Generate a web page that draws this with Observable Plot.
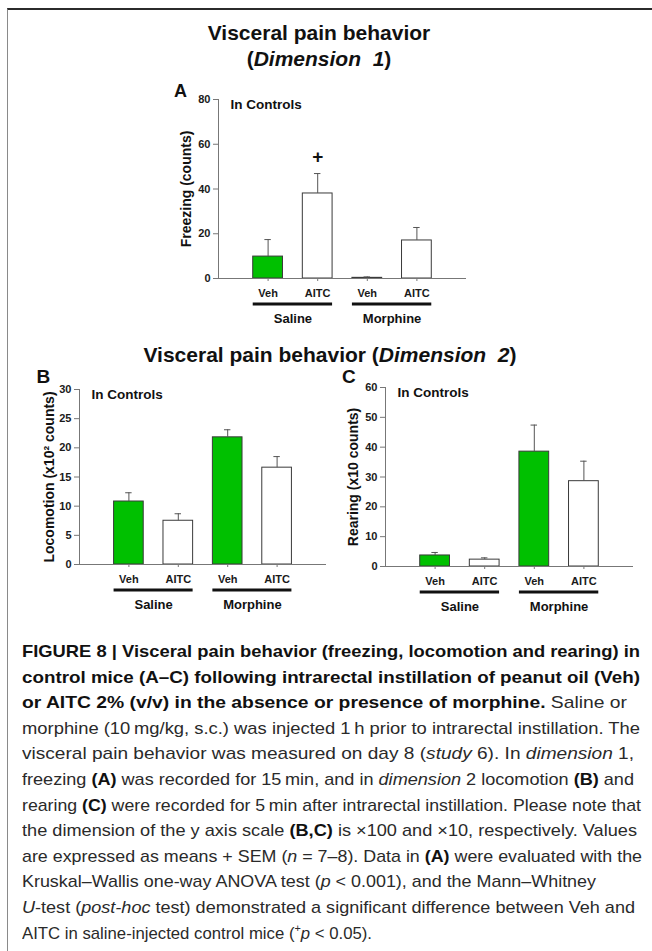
<!DOCTYPE html>
<html><head><meta charset="utf-8">
<script src="https://cdn.jsdelivr.net/npm/d3@7"></script>
<script src="https://cdn.jsdelivr.net/npm/@observablehq/plot@0.6"></script>
<style>
body{margin:0;background:#fff;}
#page{position:relative;width:652px;height:951px;overflow:hidden;background:#fff;font-family:"Liberation Sans",Arial,sans-serif;color:#1a1a1a;}
#frame{position:absolute;left:7px;top:8px;right:-2px;bottom:-2px;border-top:2px solid #2b2b2b;border-left:1px solid #8a8a8a;}
.t{position:absolute;white-space:nowrap;line-height:1;font-weight:bold;color:#111;}
.plot{position:absolute;}
#caption{position:absolute;left:22px;top:639px;font-size:17px;line-height:25.6px;color:#2a2a2a;}
#caption div{white-space:nowrap;height:25.6px;}
#caption span.ln{display:inline-block;transform-origin:0 0;}
#caption b{color:#111;}
#caption sup{font-size:0.65em;line-height:0;}
</style></head>
<body>
<div id="page">
  <div id="frame"></div>
  <div class="t" style="font-size:21px;left:0;width:638px;text-align:center;top:21.7px;">Visceral pain behavior</div>
  <div class="t" style="font-size:21px;left:0;width:638px;text-align:center;top:47.7px;">(<i>Dimension&nbsp; 1</i>)</div>
  <div class="t" style="font-size:21px;left:0;width:660px;text-align:center;top:343.9px;">Visceral pain behavior (<i>Dimension&nbsp; 2</i>)</div>
  <div class="t" style="font-size:18px;left:174px;top:81.8px;">A</div>
  <div class="t" style="font-size:19px;left:36.5px;top:367px;">B</div>
  <div class="t" style="font-size:19px;left:342px;top:367px;">C</div>
  <div class="plot" id="pA" style="left:140px;top:80px;"></div>
  <div class="plot" id="pB" style="left:10px;top:370px;"></div>
  <div class="plot" id="pC" style="left:316px;top:368px;"></div>
  <div id="caption"></div>
</div>
<script>
// ---- data ----
const groups = ["Saline", "Morphine"];
const drugs = ["Veh", "AITC", "Veh", "AITC"];
const groupOf = ["Saline", "Saline", "Morphine", "Morphine"];
const inControls = "In Controls";

const freezingMean = [9.8, 38.0, 0.3, 17.0];
const freezingSem  = [7.6, 8.9, 0.4, 5.8];
const freezingTicks = [0, 20, 40, 60, 80];
const freezingLabel = "Freezing (counts)";
const freezingSig = ["", "+", "", ""];

const locomotionMean = [10.8, 7.5, 21.8, 16.6];
const locomotionSem  = [1.5, 1.2, 1.3, 1.9];
const locomotionTicks = [0, 5, 10, 15, 20, 25, 30];
const locomotionLabel = "Locomotion (x10\u00B2 counts)";

const rearingMean = [3.7, 2.3, 38.5, 28.6];
const rearingSem  = [1.0, 0.6, 8.9, 6.7];
const rearingTicks = [0, 10, 20, 30, 40, 50, 60];
const rearingLabel = "Rearing (x10 counts)";

const captionLines = [
  "<b>FIGURE 8 | Visceral pain behavior (freezing, locomotion and rearing) in</b>",
  "<b>control mice (A–C) following intrarectal instillation of peanut oil (Veh)</b>",
  "<b>or AITC 2% (v/v) in the absence or presence of morphine.</b> Saline or",
  "morphine (10\u2009mg/kg, s.c.) was injected 1\u2009h prior to intrarectal instillation. The",
  "visceral pain behavior was measured on day 8 (<i>study</i> 6). In <i>dimension</i> 1,",
  "freezing <b>(A)</b> was recorded for 15\u2009min, and in <i>dimension</i> 2 locomotion <b>(B)</b> and",
  "rearing <b>(C)</b> were recorded for 5\u2009min after intrarectal instillation. Please note that",
  "the dimension of the y axis scale <b>(B,C)</b> is \u00D7100 and \u00D710, respectively. Values",
  "are expressed as means + SEM (<i>n</i> = 7–8). Data in <b>(A)</b> were evaluated with the",
  "Kruskal–Wallis one-way ANOVA test (<i>p</i> &lt; 0.001), and the Mann–Whitney",
  "<i>U</i>-test (<i>post-hoc</i> test) demonstrated a significant difference between Veh and",
  "AITC in saline-injected control mice (<sup>+</sup><i>p</i> &lt; 0.05)."
];
// measured line lengths of the caption in the reference (px)
const captionWidths = [618, 618, 605, 618, 612, 612, 619, 615, 620, 574, 613, 350];

// ---- styles ----
const GREEN = "#00c000";
const BAR = 0.3;   // half bar width in band units
const CAP = 0.065; // half cap width

function panel({mean, sem, ticks, ylabel, sig, width, height, mt, mr, mb, ml, labelDx}) {
  const data = drugs.map((d, i) => ({i, drug: d, group: groupOf[i], mean: mean[i], sem: sem[i], sig: sig ? sig[i] : ""}));
  const gdata = groups.map(g => {
    const idx = data.filter(d => d.group === g).map(d => d.i);
    return {name: g, from: d3.min(idx), to: d3.max(idx)};
  });
  return Plot.plot({
    width, height, marginTop: mt, marginRight: mr, marginBottom: mb, marginLeft: ml,
    style: {fontFamily: "Liberation Sans, Arial, sans-serif", fontWeight: "bold", fontSize: "11px", color: "#1a1a1a", background: "transparent", overflow: "visible"},
    x: {domain: [-1, 4]},
    y: {domain: [0, d3.max(ticks)]},
    marks: [
      Plot.rectY(data, {x1: d => d.i - BAR, x2: d => d.i + BAR, y1: 0, y2: "mean",
        fill: d => d.drug === "Veh" ? GREEN : "white", stroke: "#3a3a3a", strokeWidth: 1}),
      Plot.ruleX(data, {x: "i", y1: "mean", y2: d => d.mean + d.sem, stroke: "#555"}),
      Plot.ruleY(data, {y: d => d.mean + d.sem, x1: d => d.i - CAP, x2: d => d.i + CAP, stroke: "#555"}),
      Plot.ruleY([0], {stroke: "#777"}),
      Plot.ruleX([-1], {stroke: "#777"}),
      Plot.axisY({ticks, tickSize: 5, tickPadding: 3, label: null, stroke: "#777", fill: "#1a1a1a"}),
      Plot.axisX({ticks: data.map(d => d.i), tickFormat: i => drugs[i], tickSize: 3, tickPadding: 8, label: null, stroke: "#777", fill: "#1a1a1a"}),
      Plot.ruleY(gdata, {y: 0, x1: d => d.from - BAR, x2: d => d.to + BAR, dy: 25.5, strokeWidth: 3, stroke: "#111"}),
      Plot.text(gdata, {x: d => (d.from + d.to) / 2, y: 0, dy: 40, text: "name", fontSize: 13, fill: "#111"}),
      Plot.text([inControls], {frameAnchor: "top-left", dx: 12, lineAnchor: "top", text: d => d, fontSize: 13.5, textAnchor: "start", fill: "#111"}),
      Plot.text([ylabel], {frameAnchor: "left", rotate: -90, dx: labelDx, text: d => d, fontSize: 14, textAnchor: "middle", fill: "#111"}),
      Plot.text(data.filter(d => d.sig), {x: "i", y: d => d.mean + d.sem, dy: -17, text: "sig", fontSize: 19, fill: "#111"})
    ]
  });
}

document.getElementById("pA").append(panel({mean: freezingMean, sem: freezingSem, ticks: freezingTicks, ylabel: freezingLabel, sig: freezingSig,
  width: 340, height: 260, mt: 19, mr: 14, mb: 62, ml: 78, labelDx: -31.5}));
document.getElementById("pB").append(panel({mean: locomotionMean, sem: locomotionSem, ticks: locomotionTicks, ylabel: locomotionLabel,
  width: 330, height: 260, mt: 19, mr: 14, mb: 66, ml: 69, labelDx: -29.5}));
document.getElementById("pC").append(panel({mean: rearingMean, sem: rearingSem, ticks: rearingTicks, ylabel: rearingLabel,
  width: 330, height: 262, mt: 19, mr: 13, mb: 64, ml: 69, labelDx: -32}));

const cap = document.getElementById("caption");
captionLines.forEach((h, k) => {
  const d = document.createElement("div");
  const s = document.createElement("span");
  s.className = "ln";
  s.innerHTML = h;
  d.append(s);
  cap.append(d);
  const nat = s.getBoundingClientRect().width;
  s.style.transform = `scaleX(${captionWidths[k] / nat})`;
});
</script>
</body></html>
